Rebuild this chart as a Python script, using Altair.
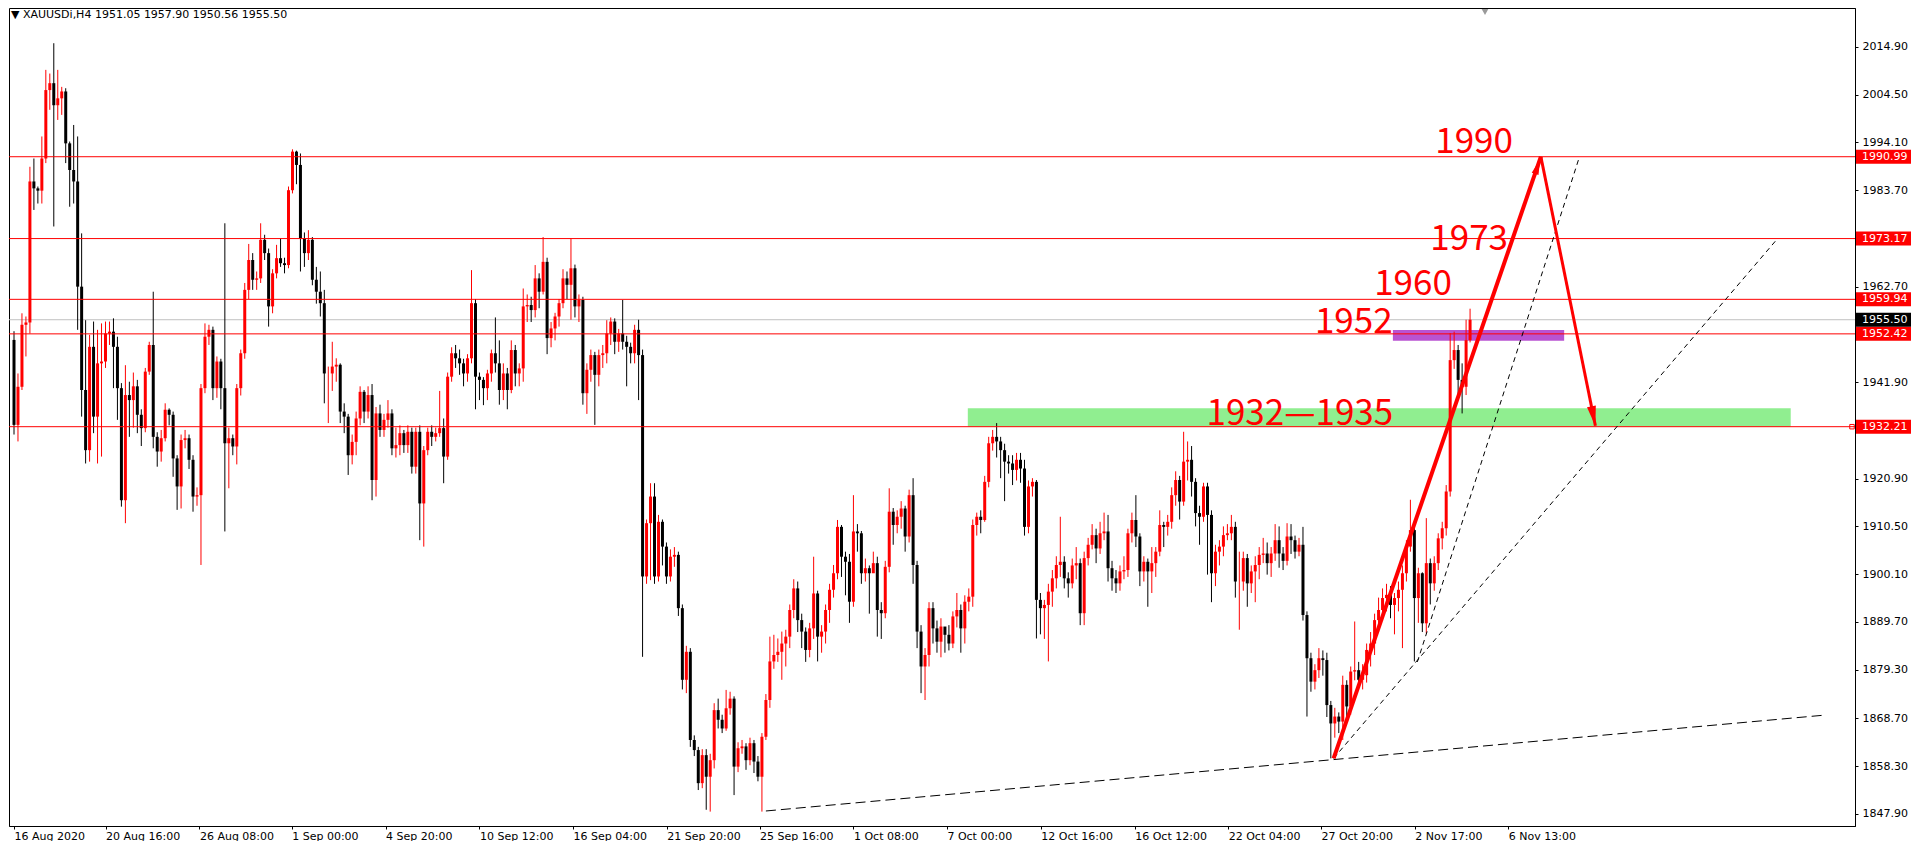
import altair as alt
import pandas as pd

# ---------------- data ----------------
FIRST_OPEN = 1951.1

close_aug = [1932.6, 1940.9, 1954.4, 1954.9, 1985.6, 1984.1, 1983.6, 1990.6, 2005.5, 2007.0,
             2002.2, 2003.7, 2005.2, 1993.9, 1988.1, 1985.6, 1962.7, 1940.2, 1927.1, 1949.6,
             1934.4, 1946.0, 1946.4, 1952.5, 1952.9, 1949.6, 1940.6, 1916.2, 1939.1, 1938.0,
             1941.0, 1934.8, 1931.9, 1944.2, 1950.0, 1930.0, 1926.8, 1929.7, 1935.9, 1934.8,
             1925.3, 1919.2, 1929.3, 1929.7, 1925.0, 1917.0, 1917.3, 1940.6, 1951.8, 1953.3,
             1940.6, 1946.4, 1940.6, 1928.6, 1929.7, 1927.9, 1940.6, 1948.2, 1962.0, 1968.5,
             1964.2, 1964.5, 1972.9, 1970.0, 1958.4, 1965.6, 1968.9, 1967.8, 1967.4, 1983.7,
             1992.1, 1989.2, 1973.2, 1970.0, 1972.9, 1964.2, 1961.6, 1959.1, 1943.8, 1943.8,
             1945.3, 1945.7, 1935.5, 1934.4, 1926.0, 1928.9, 1934.0, 1939.8, 1935.5, 1939.1,
             1920.6, 1935.1, 1931.5, 1933.7, 1935.1, 1927.5, 1928.2, 1930.8, 1928.2, 1931.1,
             1923.5, 1931.1, 1915.5, 1927.1, 1931.1, 1930.0, 1930.8, 1931.9, 1925.7, 1943.1,
             1948.2, 1947.1, 1946.0, 1943.8, 1947.1, 1959.1, 1943.1, 1942.4, 1940.6, 1943.8,
             1948.2, 1946.0, 1940.2, 1943.8, 1940.2, 1948.9, 1943.8, 1944.9, 1958.4, 1958.7,
             1957.6, 1964.5, 1961.6, 1968.1, 1951.5, 1953.6, 1956.2, 1959.1, 1964.5, 1963.1,
             1966.7, 1958.4, 1959.8, 1939.5, 1944.6, 1947.8, 1943.5, 1947.8, 1948.2, 1952.5,
             1955.1, 1950.7, 1952.5, 1950.7, 1949.6, 1948.2, 1953.3, 1947.8]
high_aug = [1953.0, 1943.8, 1956.9, 1956.2, 1988.8, 1990.6, 1984.5, 1995.4, 2009.9, 2009.1,
            2015.7, 2009.9, 2006.2, 2005.9, 1994.3, 1997.9, 1995.4, 1974.3, 1955.4, 1952.2,
            1955.1, 1953.3, 1954.7, 1955.1, 1955.1, 1955.8, 1951.8, 1941.7, 1945.6, 1942.0,
            1944.0, 1942.4, 1936.0, 1945.0, 1950.7, 1961.6, 1931.0, 1931.5, 1937.3, 1936.2,
            1935.5, 1926.0, 1930.5, 1931.5, 1930.5, 1926.0, 1919.0, 1941.5, 1954.7, 1954.4,
            1954.0, 1947.5, 1947.0, 1976.5, 1932.0, 1930.5, 1941.5, 1949.0, 1963.5, 1972.0,
            1970.0, 1966.0, 1976.5, 1974.0, 1971.0, 1966.5, 1971.8, 1973.2, 1969.0, 1984.5,
            1992.6, 1992.3, 1991.7, 1974.5, 1975.0, 1973.5, 1967.0, 1966.0, 1962.0, 1945.3,
            1950.7, 1947.1, 1946.0, 1937.3, 1935.0, 1930.5, 1935.5, 1941.0, 1940.2, 1941.0,
            1941.5, 1936.5, 1937.0, 1935.0, 1938.0, 1936.0, 1932.0, 1932.5, 1931.5, 1932.5,
            1932.0, 1932.0, 1932.5, 1928.0, 1932.0, 1932.5, 1932.0, 1940.0, 1934.0, 1944.0,
            1949.5, 1950.0, 1949.0, 1947.0, 1948.0, 1966.3, 1960.0, 1944.0, 1943.0, 1944.6,
            1949.0, 1956.0, 1951.0, 1946.0, 1945.0, 1951.0, 1950.0, 1946.0, 1962.3, 1961.0,
            1960.5, 1967.4, 1965.6, 1973.5, 1969.0, 1955.0, 1957.0, 1960.0, 1966.5, 1966.0,
            1973.2, 1967.5, 1961.0, 1960.5, 1946.0, 1949.0, 1948.5, 1949.0, 1950.0, 1955.4,
            1956.0, 1955.8, 1953.5, 1959.8, 1952.0, 1950.5, 1954.4, 1955.5]
low_aug = [1930.5, 1929.0, 1940.2, 1947.5, 1952.5, 1979.4, 1980.8, 1980.8, 1989.6, 2001.2,
           1975.8, 1999.0, 2000.1, 1989.6, 1980.1, 1980.8, 1953.3, 1934.4, 1924.2, 1924.6,
           1930.8, 1924.2, 1925.7, 1945.0, 1950.0, 1940.6, 1933.7, 1914.8, 1911.2, 1930.0,
           1932.0, 1930.8, 1928.0, 1931.0, 1943.5, 1927.5, 1923.5, 1924.6, 1929.0, 1932.5,
           1921.3, 1914.1, 1914.4, 1927.5, 1923.0, 1913.7, 1915.0, 1902.1, 1939.5, 1950.0,
           1938.0, 1938.5, 1936.0, 1909.4, 1918.8, 1926.0, 1924.0, 1939.0, 1947.0, 1960.0,
           1962.0, 1962.0, 1963.5, 1968.5, 1954.0, 1956.9, 1964.5, 1967.0, 1965.6, 1966.7,
           1983.0, 1985.0, 1966.0, 1967.0, 1968.5, 1963.0, 1959.0, 1956.2, 1937.3, 1933.0,
           1940.0, 1942.0, 1933.0, 1930.8, 1921.7, 1924.0, 1926.0, 1932.5, 1933.0, 1934.0,
           1916.2, 1917.0, 1930.0, 1930.0, 1932.0, 1926.0, 1925.5, 1926.0, 1926.5, 1926.5,
           1922.0, 1922.0, 1907.5, 1906.1, 1926.0, 1928.0, 1929.0, 1930.0, 1919.9, 1925.0,
           1942.0, 1945.0, 1943.5, 1941.0, 1942.0, 1946.0, 1936.0, 1938.0, 1936.9, 1938.0,
           1942.0, 1944.0, 1937.0, 1938.0, 1936.0, 1939.5, 1941.0, 1941.0, 1942.0, 1955.0,
           1955.0, 1956.0, 1958.0, 1961.0, 1948.0, 1949.5, 1951.0, 1954.0, 1958.0, 1960.0,
           1955.5, 1956.0, 1955.0, 1937.0, 1935.0, 1942.0, 1932.6, 1941.0, 1945.0, 1946.0,
           1950.0, 1948.0, 1948.5, 1949.0, 1941.0, 1946.0, 1946.0, 1938.0]

close_sep = [1899.6, 1911.2, 1917.0, 1899.6, 1911.5, 1906.1, 1899.6, 1903.9, 1904.3, 1892.7,
             1877.1, 1883.2, 1864.0, 1861.8, 1854.6, 1860.7, 1856.0, 1859.6, 1870.5, 1868.4,
             1866.5, 1870.9, 1873.0, 1858.2, 1862.2, 1862.6, 1859.6, 1863.3, 1859.3, 1856.0,
             1864.7, 1872.7, 1881.1, 1882.5, 1883.2, 1885.0, 1886.5, 1892.3, 1897.0, 1890.1,
             1887.6, 1883.6, 1888.3, 1895.9, 1886.5, 1887.6, 1892.3, 1896.7, 1900.3, 1910.4,
             1903.9, 1902.8, 1894.1, 1909.4, 1909.0, 1900.3, 1901.4, 1900.3, 1902.5, 1892.3,
             1891.6, 1901.7, 1913.7, 1910.8, 1912.6, 1914.4, 1908.3, 1917.3, 1902.1, 1887.6,
             1880.0, 1882.5, 1892.7, 1888.3, 1885.4, 1888.7, 1886.9, 1885.0, 1890.9, 1892.3,
             1888.3, 1894.1, 1895.2, 1910.8, 1912.6, 1911.9, 1920.2, 1928.6, 1930.0, 1929.0,
             1927.1, 1924.6, 1924.2, 1922.8, 1925.0, 1923.1, 1910.4, 1919.2, 1920.2, 1894.5,
             1892.7, 1893.4, 1896.3, 1899.2, 1902.1, 1902.8, 1899.2, 1898.1, 1902.0, 1902.5,
             1891.6, 1903.6, 1906.5, 1908.6, 1905.7, 1909.0, 1909.4, 1901.4, 1899.2, 1898.1,
             1900.7, 1901.0, 1909.0, 1911.9, 1908.3, 1900.7, 1902.8, 1900.7, 1902.5, 1905.0,
             1910.8, 1910.4, 1911.5, 1917.3, 1920.6, 1915.9, 1924.6, 1925.0, 1920.2, 1913.4,
             1912.6, 1919.2, 1913.0, 1900.3, 1905.0, 1906.1, 1908.6, 1909.0, 1910.4, 1898.5,
             1898.5, 1903.6, 1898.1, 1900.7, 1902.1, 1904.3, 1904.6, 1902.5, 1904.6, 1907.5,
             1904.6, 1903.0, 1908.3, 1907.5, 1905.0, 1906.5]
high_sep = [1949.0, 1912.0, 1919.9, 1919.9, 1913.0, 1912.0, 1907.0, 1905.5, 1906.0, 1905.0,
            1893.5, 1884.5, 1884.0, 1865.0, 1862.5, 1862.0, 1862.0, 1861.0, 1872.0, 1873.0,
            1869.5, 1874.9, 1874.5, 1873.5, 1863.5, 1864.0, 1863.3, 1864.5, 1864.0, 1860.5,
            1865.5, 1874.0, 1886.5, 1886.9, 1886.1, 1887.6, 1888.0, 1893.5, 1899.0, 1898.5,
            1891.5, 1888.5, 1889.5, 1903.9, 1896.5, 1889.0, 1893.5, 1898.0, 1902.1, 1911.9,
            1910.8, 1905.0, 1904.5, 1917.3, 1911.0, 1909.5, 1903.5, 1902.0, 1905.0, 1903.9,
            1894.0, 1903.0, 1918.8, 1914.5, 1914.0, 1916.0, 1915.0, 1918.5, 1921.0, 1903.0,
            1889.0, 1884.0, 1894.0, 1894.0, 1890.0, 1890.5, 1888.5, 1889.0, 1892.0, 1896.0,
            1893.5, 1895.5, 1897.0, 1912.0, 1913.5, 1914.0, 1921.5, 1930.0, 1931.5, 1933.0,
            1930.0, 1928.5, 1926.0, 1926.0, 1926.5, 1926.5, 1925.0, 1920.5, 1921.0, 1920.6,
            1896.0, 1894.5, 1898.0, 1901.0, 1904.0, 1912.6, 1904.0, 1900.5, 1903.5, 1906.0,
            1903.5, 1905.0, 1908.0, 1911.0, 1910.0, 1911.5, 1913.5, 1913.0, 1903.0, 1901.0,
            1902.0, 1904.0, 1910.0, 1913.5, 1917.3, 1909.0, 1904.0, 1903.5, 1906.0, 1906.0,
            1914.0, 1911.5, 1913.0, 1919.0, 1922.5, 1921.5, 1931.1, 1929.0, 1928.0, 1921.0,
            1915.0, 1920.0, 1920.0, 1914.0, 1906.5, 1907.5, 1910.5, 1911.0, 1913.0, 1911.5,
            1905.0, 1905.0, 1904.5, 1902.0, 1904.0, 1906.0, 1908.0, 1907.0, 1906.0, 1911.0,
            1910.5, 1906.0, 1911.2, 1911.0, 1908.5, 1908.0]
low_sep = [1882.1, 1898.0, 1898.8, 1898.0, 1898.5, 1902.0, 1898.0, 1898.5, 1901.7, 1891.0,
           1875.0, 1874.2, 1862.5, 1860.5, 1853.1, 1853.5, 1848.8, 1848.4, 1857.8, 1866.5,
           1865.5, 1866.0, 1869.5, 1852.0, 1857.0, 1861.0, 1857.5, 1858.5, 1856.8, 1855.0,
           1848.4, 1864.0, 1871.0, 1879.5, 1881.0, 1877.1, 1880.0, 1884.0, 1890.5, 1887.5,
           1884.0, 1881.0, 1882.0, 1886.0, 1881.1, 1883.0, 1885.0, 1889.5, 1895.0, 1899.0,
           1899.5, 1895.5, 1889.5, 1893.0, 1905.0, 1898.0, 1898.5, 1891.5, 1900.5, 1886.5,
           1886.0, 1890.5, 1900.5, 1906.5, 1909.0, 1910.0, 1905.0, 1907.0, 1898.0, 1884.0,
           1874.2, 1872.7, 1880.0, 1885.0, 1883.0, 1882.0, 1883.0, 1883.5, 1884.0, 1888.5,
           1883.0, 1885.0, 1892.0, 1893.0, 1908.5, 1909.0, 1911.5, 1919.0, 1927.0, 1925.5,
           1921.0, 1916.0, 1922.0, 1919.5, 1920.5, 1920.0, 1908.5, 1909.0, 1917.0, 1886.1,
           1887.0, 1886.0, 1881.1, 1893.0, 1897.0, 1899.5, 1897.0, 1895.0, 1897.0, 1899.0,
           1889.0, 1889.0, 1902.0, 1905.5, 1902.5, 1904.5, 1907.5, 1898.5, 1896.5, 1896.0,
           1896.5, 1899.0, 1899.5, 1907.0, 1906.0, 1897.5, 1898.5, 1893.0, 1896.0, 1899.5,
           1904.0, 1906.0, 1908.5, 1910.0, 1915.0, 1912.0, 1915.0, 1920.5, 1917.0, 1910.5,
           1906.5, 1911.5, 1900.0, 1894.0, 1897.5, 1902.0, 1904.0, 1907.5, 1907.5, 1895.0,
           1888.0, 1896.5, 1893.0, 1896.0, 1894.0, 1899.0, 1902.5, 1900.0, 1899.5, 1903.0,
           1901.5, 1901.0, 1902.0, 1904.5, 1903.5, 1904.0]

close_oct = [1891.2, 1881.8, 1876.7, 1879.2, 1881.8, 1881.4, 1871.6, 1867.6, 1869.1, 1868.0,
             1876.0, 1871.3, 1878.9, 1879.2, 1877.1, 1878.1, 1883.6, 1885.0, 1890.1, 1892.3,
             1894.9, 1895.6, 1893.4, 1894.9, 1896.7, 1900.3, 1906.1, 1909.7, 1894.9, 1900.3,
             1889.4, 1902.5, 1898.1, 1902.5, 1907.9, 1910.1, 1918.1, 1946.7]
high_oct = [1910.4, 1892.0, 1883.0, 1880.5, 1884.0, 1883.5, 1883.0, 1872.5, 1871.0, 1870.0,
            1878.0, 1877.0, 1880.0, 1889.8, 1881.0, 1880.5, 1885.0, 1887.5, 1891.5, 1895.0,
            1897.0, 1898.0, 1897.5, 1896.0, 1898.5, 1902.0, 1907.5, 1916.3, 1911.0, 1901.5,
            1900.5, 1912.3, 1903.5, 1904.0, 1909.0, 1911.5, 1919.5, 1952.6]
low_oct = [1890.0, 1869.1, 1874.5, 1875.0, 1877.5, 1878.0, 1869.0, 1860.0, 1864.5, 1865.5,
           1864.0, 1868.0, 1869.5, 1877.0, 1875.5, 1875.0, 1876.5, 1880.0, 1882.5, 1887.5,
           1890.0, 1892.0, 1890.5, 1887.0, 1892.0, 1884.0, 1898.5, 1905.0, 1881.1, 1889.5,
           1887.5, 1887.2, 1893.5, 1896.5, 1901.0, 1905.5, 1908.5, 1917.0]

close_nov = [1948.9, 1942.4, 1940.9, 1951.05, 1955.50]
high_nov = [1952.9, 1950.0, 1946.0, 1955.5, 1957.90]
low_nov = [1944.8, 1938.0, 1935.1, 1939.1, 1950.56]

level_prices = [1990.99, 1973.17, 1959.94, 1952.42, 1932.21]
current_price = [1955.50]
tick_prices = [2014.90, 2004.50, 1994.10, 1983.70, 1962.70, 1941.90, 1920.90,
               1910.50, 1900.10, 1889.70, 1879.30, 1868.70, 1858.30, 1847.90]
time_pos = [0, 23, 46.6, 69.8, 93.4, 117, 140.5, 164.1, 187.4, 211, 234.5,
            258.1, 281.7, 305.2, 328.5, 352.1, 375.6]
time_labels = ["16 Aug 2020", "20 Aug 16:00", "26 Aug 08:00", "1 Sep 00:00", "4 Sep 20:00",
               "10 Sep 12:00", "16 Sep 04:00", "21 Sep 20:00", "25 Sep 16:00", "1 Oct 08:00",
               "7 Oct 00:00", "12 Oct 16:00", "16 Oct 12:00", "22 Oct 04:00", "27 Oct 20:00",
               "2 Nov 17:00", "6 Nov 13:00"]

green_zone = {"x0": [239.75], "x1": [446.6], "p0": [1932.21], "p1": [1936.2]}
purple_zone = {"x0": [346.6], "x1": [389.65], "p0": [1950.93], "p1": [1953.26]}

dash_id = ["a", "a", "b", "b", "c", "c"]
dash_x = [189.0, 455.5, 331.7, 443.3, 352.75, 393.5]
dash_price = [1848.54, 1869.44, 1860.0, 1973.17, 1881.0, 1990.99]

arrow_up_x = [331.7, 383.8]
arrow_up_price = [1860.0, 1991.0]
arrow_down_x = [383.8, 397.5]
arrow_down_price = [1991.0, 1932.4]

annot_labels = ["1990", "1973", "1960", "1952", "1932\u20141935"]
annot_x = [357.25, 356.0, 341.9, 327.0, 299.75]
annot_price = [1991.8, 1970.7, 1960.9, 1952.6, 1932.6]

red_tags = [1990.99, 1973.17, 1959.94, 1952.42, 1932.21]
black_tags = [1955.50]

title_text = "\u25bc XAUUSDi,H4  1951.05 1957.90 1950.56 1955.50"
shift_marker_x = [369.75]

# ---------------- build ----------------
closes = close_aug + close_sep + close_oct + close_nov
highs = high_aug + high_sep + high_oct + high_nov
lows = low_aug + low_sep + low_oct + low_nov
opens = [FIRST_OPEN] + closes[:-1]
candles = pd.DataFrame({"i": list(range(len(closes))), "open": opens, "high": highs,
                        "low": lows, "close": closes})
candles["col"] = ["#ff0000" if c >= o else "#000000" for o, c in zip(opens, closes)]

W, H = 1846, 818
xs = alt.Scale(domain=[0, 461.5], nice=False, zero=False)
ys = alt.Scale(domain=[1845.27, 2023.37], nice=False, zero=False)

labels_js = "[" + ",".join("'" + s + "'" for s in time_labels) + "]"
pos_js = "[" + ",".join(str(p) for p in time_pos) + "]"
x_axis = alt.Axis(values=time_pos, labelExpr=labels_js + "[indexof(" + pos_js + ", datum.value)]",
                  labelAlign="left", labelFont="DejaVu Sans", labelFontSize=11, labelColor="black",
                  tickColor="black", tickSize=3, labelPadding=1, domainColor="black", grid=False,
                  labelOverlap=False, labelFlush=False, title=None)
y_axis = alt.Axis(orient="right", values=tick_prices, format=".2f", labelFont="DejaVu Sans",
                  labelFontSize=11, labelColor="black", tickColor="black", tickSize=3,
                  labelPadding=4, domainColor="black", grid=False, labelOverlap=False,
                  labelFlush=False, title=None)


def X(f):
    return alt.X(f, type="quantitative", scale=xs, axis=x_axis, title=None)


def Y(f):
    return alt.Y(f, type="quantitative", scale=ys, axis=y_axis, title=None)


green = alt.Chart(pd.DataFrame(green_zone)).mark_rect(color="#90ee90", opacity=1).encode(
    x=X("x0"), x2="x1", y=Y("p0"), y2="p1")
purple = alt.Chart(pd.DataFrame(purple_zone)).mark_rect(color="#b953d2", opacity=1).encode(
    x=X("x0"), x2="x1", y=Y("p0"), y2="p1")
cur_line = alt.Chart(pd.DataFrame({"price": current_price})).mark_rule(
    color="#c0c0c0", strokeWidth=1).encode(y=Y("price"))

wicks = alt.Chart(candles).mark_rule(strokeWidth=1, clip=True).encode(
    x=X("i"), y=Y("low"), y2="high", color=alt.Color("col:N", scale=None))
bodies = alt.Chart(candles).mark_bar(size=3, clip=True).encode(
    x=X("i"), y=Y("open"), y2="close", color=alt.Color("col:N", scale=None))

levels = alt.Chart(pd.DataFrame({"price": level_prices})).mark_rule(
    color="#ff0000", strokeWidth=1).encode(y=Y("price"))

dash_df = pd.DataFrame({"id": dash_id, "x": dash_x, "price": dash_price})
dash_a = alt.Chart(dash_df[dash_df["id"] == "a"]).mark_line(
    color="black", strokeWidth=1, strokeDash=[10, 5]).encode(x=X("x"), y=Y("price"))
dash_bc = alt.Chart(dash_df[dash_df["id"] != "a"]).mark_line(
    color="black", strokeWidth=1, strokeDash=[5, 4]).encode(x=X("x"), y=Y("price"), detail="id:N")

up_line = alt.Chart(pd.DataFrame({"x": arrow_up_x, "price": arrow_up_price})).mark_line(
    color="#ff0000", strokeWidth=4).encode(x=X("x"), y=Y("price"))
down_line = alt.Chart(pd.DataFrame({"x": arrow_down_x, "price": arrow_down_price})).mark_line(
    color="#ff0000", strokeWidth=3).encode(x=X("x"), y=Y("price"))
HEAD = "M0,-1L0.45,1L-0.45,1Z"
head_up = alt.Chart(pd.DataFrame({"x": [383.0], "price": [1988.9]})).mark_point(
    shape=HEAD, filled=True, color="#ff0000", size=250, opacity=1, angle=19, strokeWidth=0).encode(
    x=X("x"), y=Y("price"))
head_down = alt.Chart(pd.DataFrame({"x": [397.0], "price": [1934.5]})).mark_point(
    shape=HEAD, filled=True, color="#ff0000", size=400, opacity=1, angle=168.5, strokeWidth=0).encode(
    x=X("x"), y=Y("price"))

annots = alt.Chart(pd.DataFrame({"label": annot_labels, "x": annot_x, "price": annot_price})).mark_text(
    align="left", baseline="alphabetic", color="#ff0000", font="Noto Sans CJK SC", fontSize=35).encode(
    x=X("x"), y=Y("price"), text="label:N")

RECT = "M-1,-0.2545L1,-0.2545L1,0.2545L-1,0.2545Z"
tag_box_red = alt.Chart(pd.DataFrame({"price": red_tags})).mark_point(
    shape=RECT, filled=True, color="#ff0000", size=3025, opacity=1, strokeWidth=0).encode(
    x=alt.value(W + 28.5), y=Y("price"))
tag_box_black = alt.Chart(pd.DataFrame({"price": black_tags})).mark_point(
    shape=RECT, filled=True, color="#000000", size=3025, opacity=1, strokeWidth=0).encode(
    x=alt.value(W + 28.5), y=Y("price"))
tag_text = alt.Chart(pd.DataFrame({"price": red_tags + black_tags})).mark_text(
    align="left", baseline="middle", color="white", font="DejaVu Sans", fontSize=11).encode(
    x=alt.value(W + 7), y=Y("price"), text=alt.Text("price:Q", format=".2f"))
end_square = alt.Chart(pd.DataFrame({"price": [1932.21]})).mark_point(
    shape="square", size=20, filled=False, color="#ff0000", strokeWidth=1, opacity=1).encode(
    x=alt.value(W - 3), y=Y("price"))

title = alt.Chart(pd.DataFrame({"t": [title_text]})).mark_text(
    align="left", baseline="middle", font="DejaVu Sans", fontSize=11, color="black").encode(
    x=alt.value(2), y=alt.value(7), text="t:N")
marker = alt.Chart(pd.DataFrame({"x": shift_marker_x})).mark_point(
    shape="triangle-down", filled=True, color="#9a9a9a", size=45, opacity=1).encode(
    x=X("x"), y=alt.value(4))

chart = alt.layer(
    green, purple, cur_line, wicks, bodies, levels, dash_a, dash_bc,
    up_line, down_line, head_up, head_down, annots,
    tag_box_red, tag_box_black, tag_text, end_square, title, marker
).properties(width=W, height=H, padding=0, background="white").configure_view(
    stroke="black", strokeWidth=1)

chart.save("out.html", embed_options={"renderer": "svg", "actions": False})
